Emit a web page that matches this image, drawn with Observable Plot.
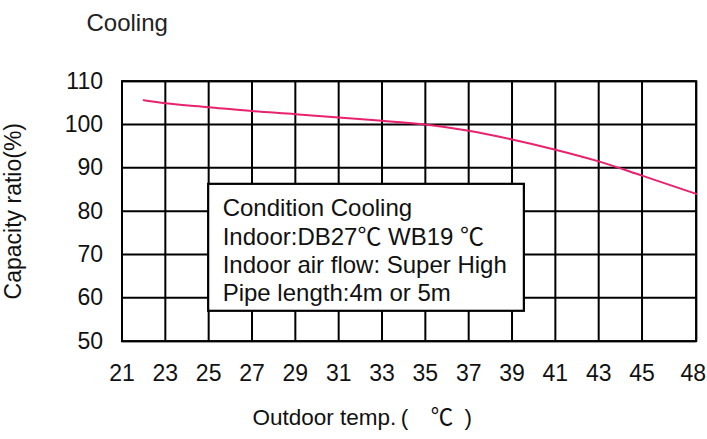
<!DOCTYPE html>
<html>
<head>
<meta charset="utf-8">
<script src="https://cdn.jsdelivr.net/npm/d3@7"></script>
<script src="https://cdn.jsdelivr.net/npm/@observablehq/plot@0.6"></script>
<style>
  html, body { margin: 0; padding: 0; background: #fff; }
</style>
</head>
<body>
<div id="chart"></div>
<script>
// ---- data ----
const temps  = [22, 23, 25, 27, 29, 31, 33, 35, 37, 39, 41, 43, 45, 48];
const ratios = [105.6, 104.9, 104.0, 103.1, 102.4, 101.6, 100.85, 100.0, 98.55, 96.55, 94.2, 91.5, 88.2, 84.0];
const xTicks = [21, 23, 25, 27, 29, 31, 33, 35, 37, 39, 41, 43, 45, 48];
const yTicks = [50, 60, 70, 80, 90, 100, 110];
const titleText = "Cooling";
const yLabel = "Capacity ratio(%)";
const xLabel = "Outdoor temp.\u2009(\u2003\u2103\u2002)";
const boxLines = [
  "Condition Cooling",
  "Indoor:DB27\u2103 WB19 \u2103",
  "Indoor air flow: Super High",
  "Pipe length:4m or 5m"
];

const data = temps.map((t, i) => ({t, r: ratios[i]}));
const lastTick = xTicks[xTicks.length - 1];

const W = 707, H = 439;
const mL = 121.5, mR = 11.3, mT = 80.7, mB = 98.3;
const xa = mL, xb = W - mR;
const font = "'Liberation Sans', Arial, 'Noto Sans CJK SC', sans-serif";

const chart = Plot.plot({
  width: W,
  height: H,
  marginLeft: mL,
  marginRight: mR,
  marginTop: mT,
  marginBottom: mB,
  style: {fontFamily: font, fontSize: "23px", color: "#111", background: "#fff"},
  x: {type: "linear", domain: [21, 45, 48], range: [xa, xa + (xb - xa) * 12 / 13.25, xb], label: null},
  y: {type: "linear", domain: [50, 110], label: null},
  marks: [
    Plot.gridX(xTicks, {stroke: "#000", strokeOpacity: 1, strokeWidth: 2}),
    Plot.gridY(yTicks, {stroke: "#000", strokeOpacity: 1, strokeWidth: 2}),
    Plot.frame({stroke: "#000", strokeWidth: 2}),
    Plot.axisX(xTicks.slice(0, -1), {tickSize: 0, tickPadding: 23, label: null}),
    Plot.axisX([lastTick], {tickSize: 0, tickPadding: 23, dx: -3, label: null}),
    Plot.axisY(yTicks, {tickSize: 0, tickPadding: 19, label: null}),
    Plot.line(data, {x: "t", y: "r", stroke: "#e8226e", strokeWidth: 2, curve: "monotone-x"}),
    Plot.rect([0], {x1: 25, x2: 39.57, y1: 56.9, y2: 86.2, fill: "#fff", stroke: "#000", strokeWidth: 2.2}),
    Plot.text([boxLines.join("\n")], {x: 25, y: 86.2, dx: 14, dy: 12, textAnchor: "start", lineAnchor: "top", lineHeight: 1.18, fontSize: 24, fill: "#111"}),
    Plot.text([titleText], {frameAnchor: "top-left", dx: -35.5, dy: -66.8, textAnchor: "start", lineAnchor: "top", fontSize: 24, fill: "#222"}),
    Plot.text([yLabel], {frameAnchor: "left", dx: -108.5, rotate: -90, textAnchor: "middle", lineAnchor: "middle", fontSize: 23, fill: "#111"}),
    Plot.text([xLabel], {frameAnchor: "bottom-left", dx: 130.5, dy: 68, textAnchor: "start", lineAnchor: "top", fontSize: 22.5, fill: "#111"})
  ]
});
document.getElementById("chart").appendChild(chart);
</script>
</body>
</html>
